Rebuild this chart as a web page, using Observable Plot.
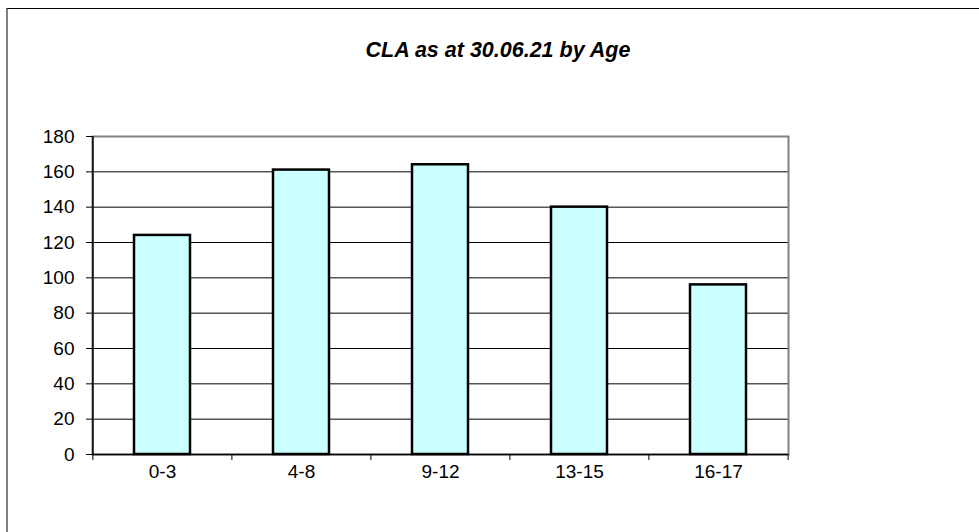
<!DOCTYPE html>
<html>
<head>
<meta charset="utf-8">
<script src="https://cdn.jsdelivr.net/npm/d3@7"></script>
<script src="https://cdn.jsdelivr.net/npm/@observablehq/plot@0.6"></script>
<style>
  html, body { margin: 0; padding: 0; background: #fff; }
  #wrap { position: relative; width: 979px; height: 532px; overflow: hidden; }
  #border { position: absolute; left: 6px; top: 8px; width: 1000px; height: 600px;
            border-left: 2px solid #808080; border-top: 1px solid #000; box-sizing: border-box; }
  #title { position: absolute; left: 0; width: 996px; top: 38px; text-align: center;
           font: italic bold 21.5px "Liberation Sans", Arial, sans-serif; color: #000; }
  #chart { position: absolute; left: 0; top: 0; }
</style>
</head>
<body>
<div id="wrap">
  <div id="border"></div>
  <div id="title">CLA as at 30.06.21 by Age</div>
  <div id="chart"></div>
</div>
<script>
const categories = ["0-3", "4-8", "9-12", "13-15", "16-17"];
const values = [124, 161, 164, 140, 96];
const yTicks = [0, 20, 40, 60, 80, 100, 120, 140, 160, 180];

const data = categories.map((c, i) => ({age: c, count: values[i]}));

const W = 979, H = 532;
const mL = 92, mR = 191, mT = 136, mB = 78;
const step = (W - mL - mR) / categories.length;
const half = step / 2;
const font = '"Liberation Sans", Arial, sans-serif';

const chart = Plot.plot({
  width: W,
  height: H,
  marginLeft: mL,
  marginRight: mR,
  marginTop: mT,
  marginBottom: mB,
  style: {fontFamily: font, fontSize: "19px", color: "#000", background: "transparent", overflow: "visible"},
  x: {domain: categories, paddingInner: 0.6, paddingOuter: 0.3, label: null},
  y: {domain: [0, 180], label: null},
  marks: [
    Plot.gridY(yTicks, {stroke: "#000", strokeOpacity: 1, strokeWidth: 1}),
    Plot.frame({stroke: "#808080", strokeWidth: 2}),
    Plot.ruleY([0], {stroke: "#000", strokeWidth: 1.5}),
    Plot.ruleX([categories[0]], {dx: -half, stroke: "#000", strokeWidth: 1.5}),
    Plot.barY(data, {x: "age", y: "count", fill: "#ccffff", stroke: "#000", strokeWidth: 2.5}),
    Plot.axisY(yTicks, {tickSize: 6, tickPadding: 12, stroke: "#000", fill: "#000", fontSize: 19, tickFormat: d => String(d)}),
    Plot.axisX(categories, {tickSize: 6, text: null, dx: -half, stroke: "#000"}),
    Plot.axisX([categories[categories.length - 1]], {tickSize: 6, text: null, dx: half, stroke: "#000"}),
    Plot.axisX(categories, {tickSize: 0, tickPadding: 10, fill: "#000", fontSize: 19})
  ]
});
document.getElementById("chart").appendChild(chart);
</script>
</body>
</html>
